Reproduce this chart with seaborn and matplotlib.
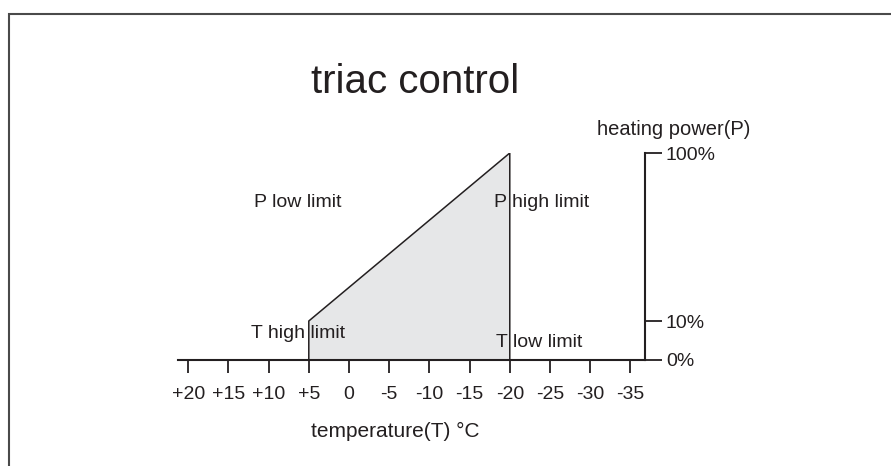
import numpy as np
import matplotlib
matplotlib.use("Agg")
import matplotlib.pyplot as plt
import seaborn as sns
from matplotlib.patches import Rectangle

# data: triac control curve
temps = [5, 5, -20, -20]          # temperature (°C)
power = [0, 10, 100, 0]           # heating power (%)
temp_ticks = [20, 15, 10, 5, 0, -5, -10, -15, -20, -25, -30, -35]
temp_labels = ['+20', '+15', '+10', '+5', '0', '-5', '-10', '-15', '-20', '-25', '-30', '-35']
power_ticks = [0, 10, 100]
power_labels = ['0%', '10%', '100%']

sns.set_theme(style="white")
plt.rcParams['font.family'] = ['Liberation Sans', 'DejaVu Sans']
ink = '#231f20'

# piecewise power axis (10% is stretched like in the drawing)
def fwd(p):
    p = np.asarray(p, dtype=float)
    return np.where(p <= 10, p * 3.9, 39 + (p - 10) * 168 / 90)

def inv(v):
    v = np.asarray(v, dtype=float)
    return np.where(v <= 39, v / 3.9, 10 + (v - 39) * 90 / 168)

W, H = 891, 466
fig = plt.figure(figsize=(W / 100, H / 100), dpi=100)
ax = fig.add_axes([178 / W, 106 / H, 467 / W, 207 / H])
ax.set_facecolor('none')

ax.fill(temps, power, color='#e6e7e8', lw=0)
sns.lineplot(x=temps, y=power, sort=False, estimator=None, color=ink, lw=1.1, ax=ax)

ax.set_yscale('function', functions=(fwd, inv))
ax.set_xlim(21.27, -36.82)
ax.set_ylim(0, 100)

for s in ['top', 'left']:
    ax.spines[s].set_visible(False)
for s in ['bottom', 'right']:
    ax.spines[s].set_color(ink)
    ax.spines[s].set_linewidth(1.5)

ax.set_xticks(temp_ticks)
ax.set_xticklabels(temp_labels)
ax.tick_params(axis='x', direction='out', length=9.5, width=1.3, color=ink,
               labelsize=14, labelcolor=ink, pad=9, bottom=True)
ax.yaxis.tick_right()
ax.set_yticks(power_ticks)
ax.set_yticklabels(power_labels)
ax.tick_params(axis='y', direction='out', length=12, width=1.3, color=ink,
               labelsize=14, labelcolor=ink, pad=3, right=True, left=False)
ax.yaxis.set_minor_locator(matplotlib.ticker.NullLocator())

# texts
fig.text(415 / W, 1 - 93 / H, 'triac control', fontsize=29, color=ink,
         ha='center', va='baseline')
fig.text(674 / W, 1 - 135 / H, 'heating power(P)', fontsize=14.5, color=ink,
         ha='center', va='baseline')
fig.text(395 / W, 1 - 437 / H, 'temperature(T) °C', fontsize=15, color=ink,
         ha='center', va='baseline')
fig.text(254 / W, 1 - 207 / H, 'P low limit', fontsize=14, color=ink, va='baseline')
fig.text(494 / W, 1 - 207 / H, 'P high limit', fontsize=14, color=ink, va='baseline')
fig.text(251 / W, 1 - 338 / H, 'T high limit', fontsize=14, color=ink, va='baseline')
fig.text(496 / W, 1 - 347 / H, 'T low limit', fontsize=14, color=ink, va='baseline')

# outer frame
fig.patches.append(Rectangle((8.5 / W, -0.1), 1.1, (H - 13.5) / H + 0.1,
                             transform=fig.transFigure, fill=False,
                             edgecolor='#4a4a4a', lw=1.5))

fig.savefig('out.png', dpi=100)
